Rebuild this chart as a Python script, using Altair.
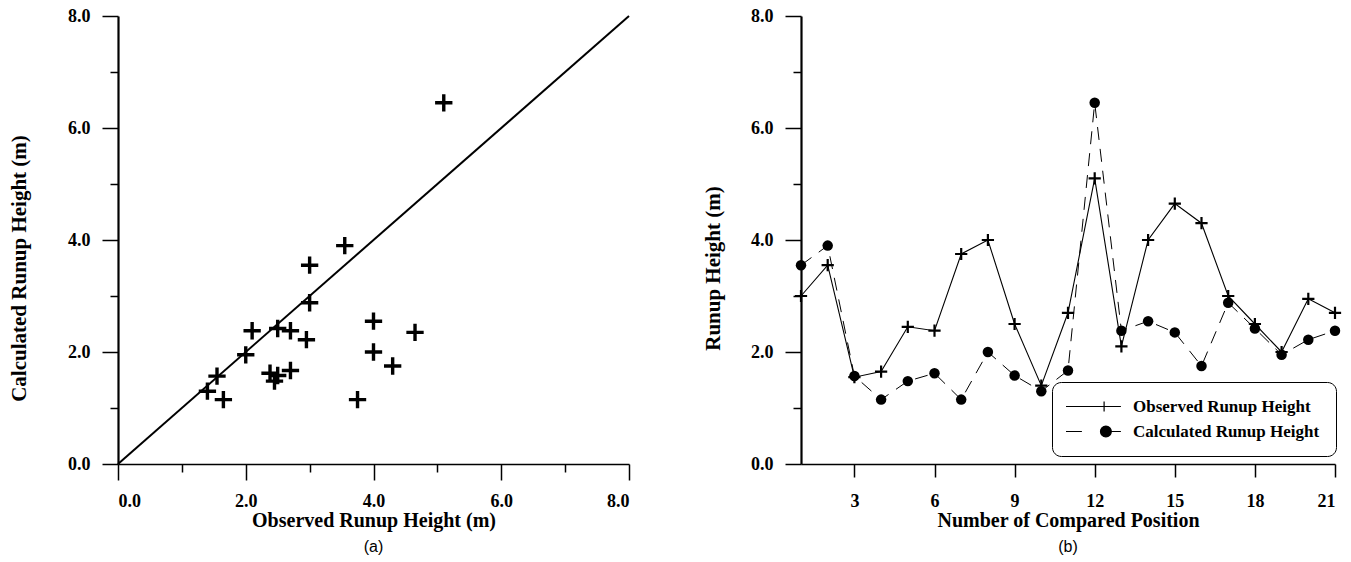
import altair as alt
import pandas as pd

# ---- data ----
positions = list(range(1, 22))
observed = [3.0, 3.55, 1.55, 1.65, 2.45, 2.38, 3.75, 4.0, 2.5, 1.4, 2.7,
            5.1, 2.1, 4.0, 4.65, 4.3, 3.0, 2.5, 2.0, 2.95, 2.7]
calculated = [3.55, 3.9, 1.57, 1.15, 1.48, 1.62, 1.15, 2.0, 1.58, 1.3, 1.67,
              6.45, 2.38, 2.55, 2.35, 1.75, 2.88, 2.42, 1.95, 2.22, 2.38]
series_names = ["Observed Runup Height", "Calculated Runup Height"]
diag_x = [0.0, 8.0]
diag_y = [0.0, 8.0]
height_ticks = [0, 1, 2, 3, 4, 5, 6, 7, 8]
position_ticks = [3, 6, 9, 12, 15, 18, 21]

SERIF = "Liberation Serif"
SANS = "Liberation Sans"
CROSS = "M-1,0H1M0,-1V1"

scatter_df = pd.DataFrame({"obs": observed, "calc": calculated})
diag_df = pd.DataFrame({"x": diag_x, "y": diag_y})
wide_df = pd.DataFrame({"pos": positions, "obs": observed, "calc": calculated})
long_df = pd.concat([
    pd.DataFrame({"pos": positions, "value": observed, "series": series_names[0]}),
    pd.DataFrame({"pos": positions, "value": calculated, "series": series_names[1]}),
])

even_label = "datum.value % 2 == 0 ? format(datum.value, '.1f') : ''"
even_tick = {"condition": {"test": "datum.value % 2 == 0", "value": 16}, "value": 8}
hscale = alt.Scale(domain=[0, 8], nice=False, zero=False)

# ---------------- panel (a) ----------------
xa = alt.Axis(values=height_ticks, labelExpr=even_label, title="Observed Runup Height (m)",
              tickSize=even_tick, labelPadding=12, titlePadding=0, domainWidth=1.5,
              titleFontSize=20)
ya = alt.Axis(values=height_ticks, labelExpr=even_label, title="Calculated Runup Height (m)",
              tickSize=even_tick, labelPadding=12, titlePadding=38, domainWidth=2.2, titleY=252)

diag = alt.Chart(diag_df).mark_line(color="black", strokeWidth=2).encode(
    x=alt.X("x:Q", scale=hscale, axis=xa),
    y=alt.Y("y:Q", scale=hscale, axis=ya),
)
pts = alt.Chart(scatter_df).mark_point(
    shape=CROSS, size=300, strokeWidth=3.4, color="black", filled=False, opacity=1
).encode(
    x=alt.X("obs:Q", scale=hscale, axis=xa),
    y=alt.Y("calc:Q", scale=hscale, axis=ya),
)
left = alt.layer(diag, pts).properties(
    width=511, height=448,
    title=alt.TitleParams("(a)", orient="bottom", font=SANS, fontSize=16,
                          fontWeight="normal", color="black", offset=9),
)

# ---------------- panel (b) ----------------
pscale = alt.Scale(domain=[1, 21], nice=False, zero=False)
xb = alt.Axis(values=position_ticks, format="d", title="Number of Compared Position",
              tickSize=13, labelPadding=15, titlePadding=0, domainWidth=1.5,
              titleFontSize=20)
yb = alt.Axis(values=height_ticks, labelExpr=even_label, title="Runup Height (m)",
              tickSize=even_tick, labelPadding=12, titlePadding=27, domainWidth=2.2, titleY=252)

calc_line = alt.Chart(wide_df).mark_line(
    color="black", strokeWidth=1, strokeDash=[13, 9]
).encode(x=alt.X("pos:Q", scale=pscale, axis=xb), y=alt.Y("calc:Q", scale=hscale, axis=yb))
calc_pts = alt.Chart(wide_df).mark_circle(color="black", size=110, opacity=1).encode(
    x=alt.X("pos:Q", scale=pscale, axis=xb), y=alt.Y("calc:Q", scale=hscale, axis=yb))
obs_line = alt.Chart(wide_df).mark_line(color="black", strokeWidth=1.1).encode(
    x=alt.X("pos:Q", scale=pscale, axis=xb), y=alt.Y("obs:Q", scale=hscale, axis=yb))
obs_pts = alt.Chart(wide_df).mark_point(
    shape=CROSS, size=150, strokeWidth=2.2, color="black", filled=False, opacity=1
).encode(x=alt.X("pos:Q", scale=pscale, axis=xb), y=alt.Y("obs:Q", scale=hscale, axis=yb))

# legend symbols: line + marker drawn as custom paths
OBS_SYM = "M-1.75,0H7.4M4.6,-0.85V0.85"
CALC_SYM = ("M-1.75,0H0.9M4.0,0A0.9,0.9 0 1,0 5.8,0A0.9,0.9 0 1,0 4.0,0Z"
            "M5.8,0H7.4")

legend_layer = alt.Chart(long_df).mark_point(
    filled=True, fill="black", stroke="black", strokeWidth=1.2, opacity=0, size=1
).encode(
    x=alt.X("pos:Q", scale=pscale, axis=xb),
    y=alt.Y("value:Q", scale=hscale, axis=yb),
    shape=alt.Shape(
        "series:N",
        scale=alt.Scale(domain=series_names, range=[OBS_SYM, CALC_SYM]),
        legend=alt.Legend(
            title=None, orient="none", legendX=251, legendY=366,
            strokeColor="black", cornerRadius=9, padding=16, fillColor="white",
            symbolSize=144, symbolOpacity=1, symbolStrokeWidth=1.2,
            labelOffset=48, rowPadding=7,
            labelFont=SERIF, labelFontWeight="bold", labelFontSize=17,
            labelColor="black", labelLimit=400,
        ),
    ),
)

right = alt.layer(calc_line, calc_pts, obs_line, obs_pts, legend_layer).properties(
    width=534, height=448,
    title=alt.TitleParams("(b)", orient="bottom", font=SANS, fontSize=16,
                          fontWeight="normal", color="black", offset=9),
)

chart = alt.hconcat(left, right, spacing=69).resolve_legend(shape="independent").properties(
    padding={"left": 8, "top": 7, "right": 0, "bottom": 0}
).configure_view(stroke=None).configure_axis(
    grid=False, domainColor="black", tickColor="black", tickWidth=1.5,
    labelFont=SERIF, labelFontWeight="bold", labelFontSize=18, labelColor="black",
    titleFont=SERIF, titleFontWeight="bold", titleFontSize=21,
    titleColor="black",
)

chart.save("out.html", embed_options={"renderer": "svg", "actions": False})
